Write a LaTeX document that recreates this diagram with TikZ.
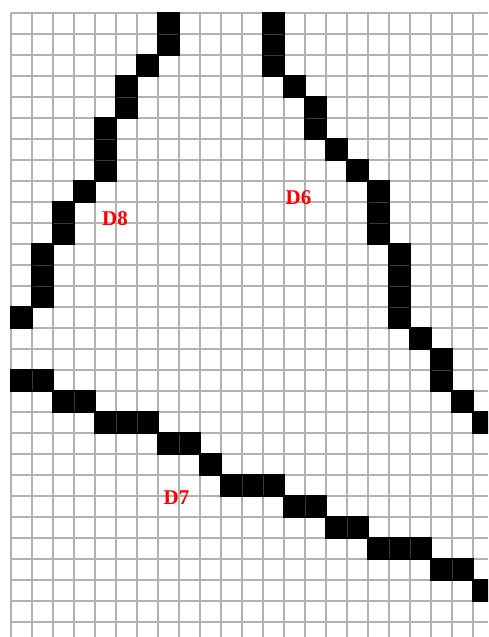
\documentclass[tikz,border=0pt]{standalone}
\usepackage{fontspec}
\newfontfamily\lblfont{Liberation Serif}
\definecolor{gridgray}{HTML}{B2B2B2}
\definecolor{sepgray}{HTML}{3A3A3A}
\tikzset{
  gridline/.style={draw=gridgray, line width=1.6pt},
  sepline/.style={draw=sepgray, line width=1pt},
  cellfill/.style={fill=black},
  lbl/.style={text=red, font=\lblfont\bfseries\fontsize{21}{23}\selectfont, inner sep=0pt}
}
\begin{document}
\begin{tikzpicture}[x=1pt,y=-1pt]
\useasboundingbox (0,0) rectangle (488,637);
\fill[white] (0,0) rectangle (488,637);
\begin{scope}
\clip (0,0) rectangle (488,637);
% grid
\foreach \c in {0,...,22} \draw[gridline] ({11+21*\c},13) -- ({11+21*\c},637);
\foreach \r in {0,...,29} \draw[gridline] (11,{13+21*\r}) -- (488,{13+21*\r});
% black cells (column, row), covering the grid lines at their edges
\foreach \c/\r in {7/0,12/0,7/1,12/1,6/2,12/2,5/3,13/3,5/4,14/4,4/5,14/5,4/6,15/6,4/7,16/7,
  3/8,17/8,2/9,17/9,2/10,17/10,1/11,18/11,1/12,18/12,1/13,18/13,0/14,18/14,19/15,20/16,
  0/17,1/17,20/17,2/18,3/18,21/18,4/19,5/19,6/19,22/19,7/20,8/20,9/21,10/22,11/22,12/22,
  13/23,14/23,15/24,16/24,17/25,18/25,19/25,20/26,21/26,22/27}
  {\fill[cellfill] ({11+21*\c-0.8},{13+21*\r-0.8}) rectangle ++(22.6,22.6);}
% faint separators between side-by-side black cells (left cell column, row)
\foreach \c/\r in {0/17,2/18,4/19,5/19,7/20,10/22,11/22,13/23,15/24,17/25,18/25,20/26}
  {\draw[sepline] ({11+21*(\c+1)},{13+21*\r+0.8}) -- ++(0,19.4);}
% faint separators between stacked black cells (column, upper row)
\foreach \c/\r in {7/0,12/0,12/1,5/3,14/4,4/5,4/6,17/8,17/9,2/9,1/11,1/12,18/11,18/12,18/13,20/16}
  {\draw[sepline] ({11+21*\c+0.8},{13+21*(\r+1)}) -- ++(19.4,0);}
\end{scope}
\node[lbl] (d8) at (115,218.5) {D8};
\node[lbl] (d6) at (298.5,197.5) {D6};
\node[lbl] (d7) at (176.5,498) {D7};
\end{tikzpicture}
\end{document}
